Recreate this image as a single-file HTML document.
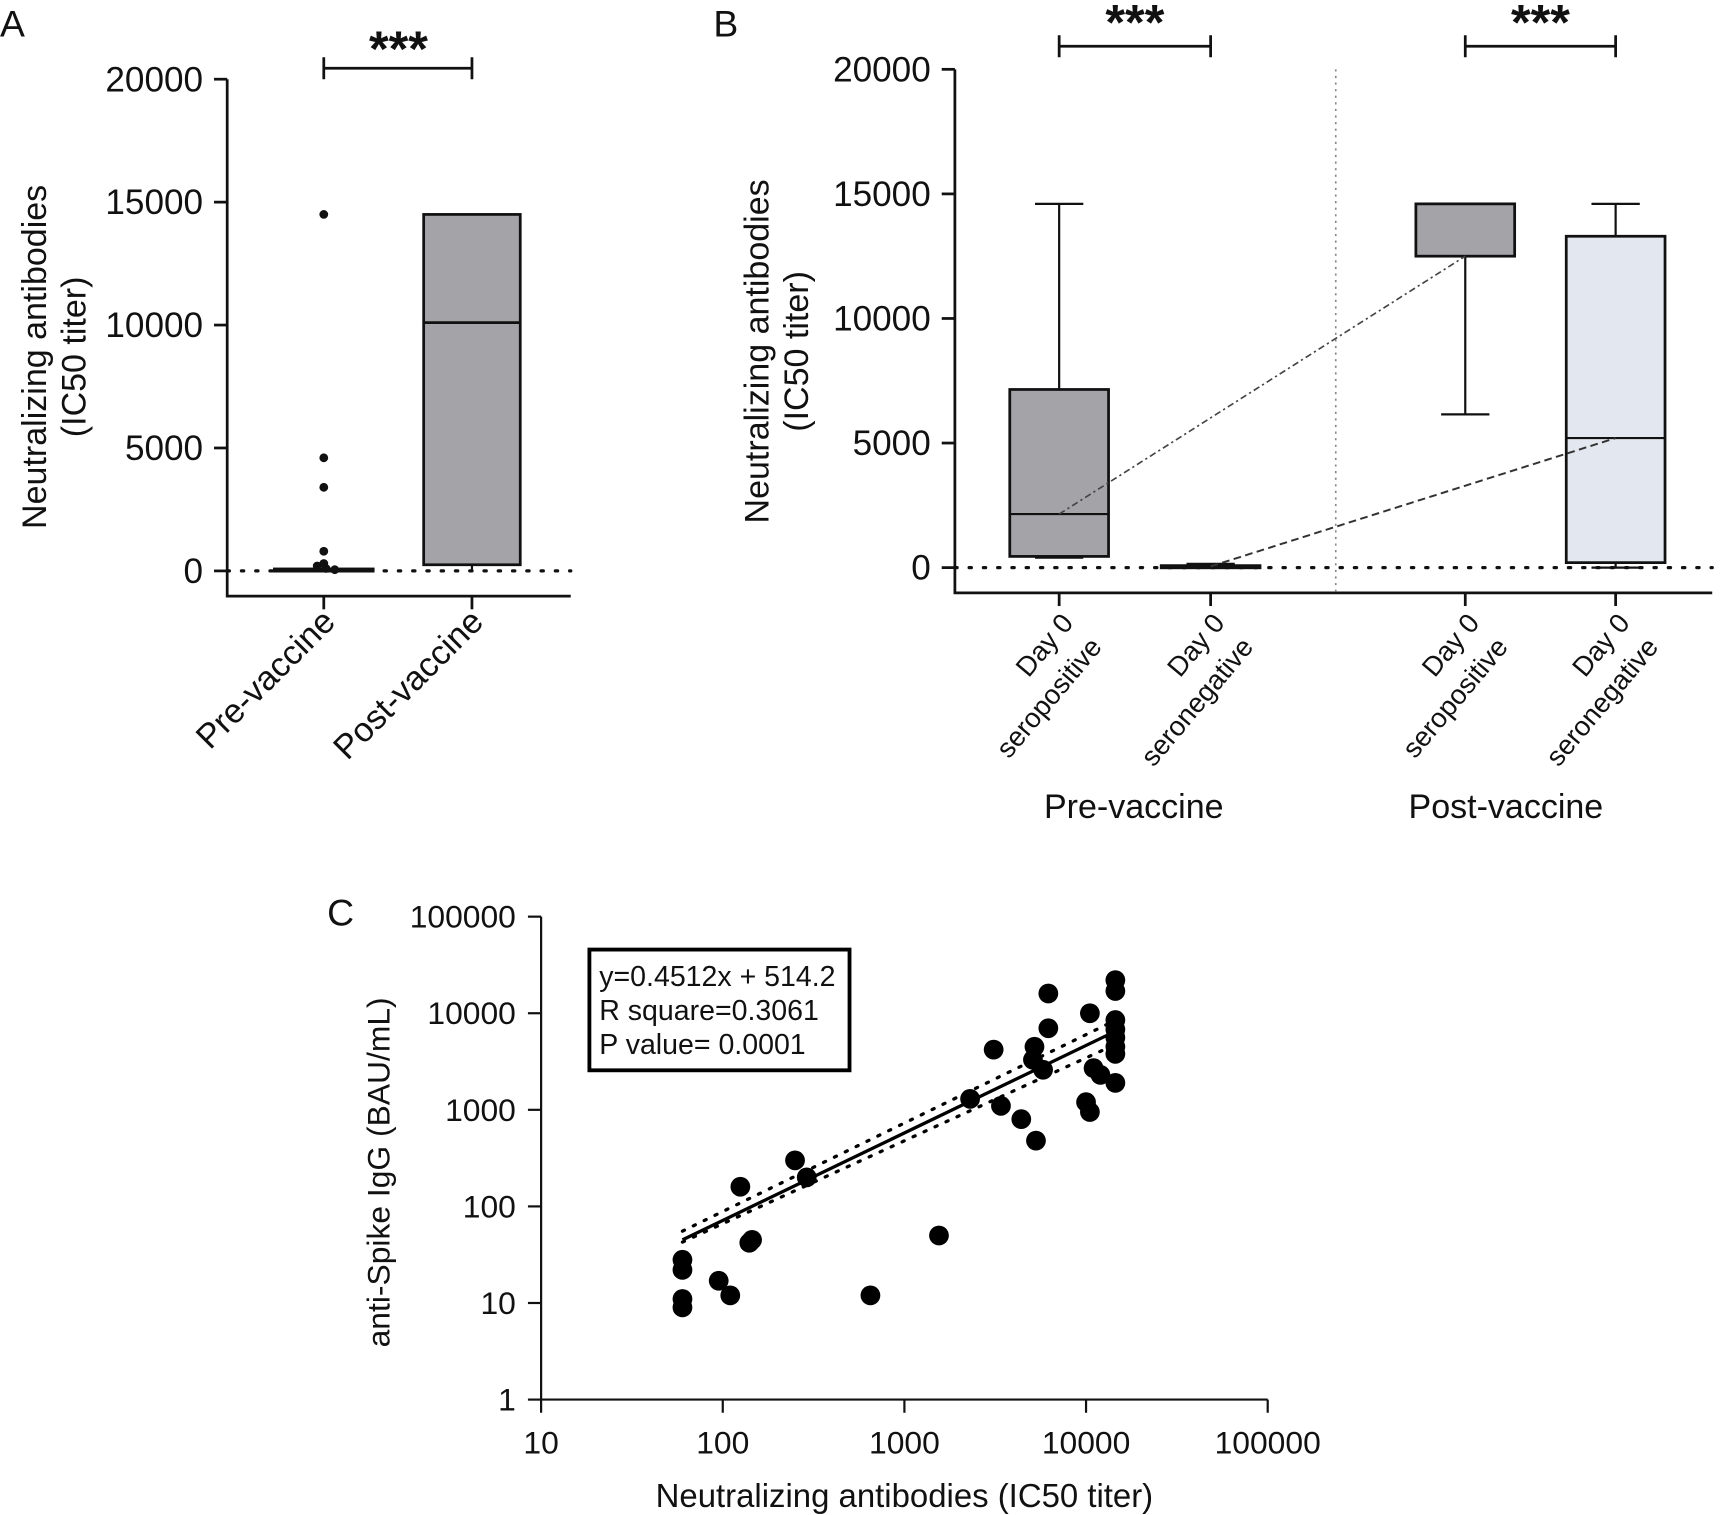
<!DOCTYPE html>
<html><head><meta charset="utf-8"><style>
body{margin:0;background:#fff}
svg{display:block}
text{font-family:"Liberation Sans",sans-serif;fill:#111}
</style></head><body>
<svg id="fig" width="1721" height="1515" viewBox="0 0 1568 1380" xmlns="http://www.w3.org/2000/svg">
<g id="A"></g>
<g id="B"></g>
<g id="C"></g>
</svg>
<script>
// Panel A data
const aCats=["Pre-vaccine","Post-vaccine"];
const aTicks=[0,5000,10000,15000,20000];
const aPreOutliers=[14500,4600,3400,800,300,200,100,50];
const aPostBox={min:0,q1:250,med:10100,q3:14500,max:14500};
const aPreBox={min:0,q1:20,med:50,q3:80,max:100};
// Panel B data
const bCats=[["Day 0","seropositive"],["Day 0","seronegative"],["Day 0","seropositive"],["Day 0","seronegative"]];
const bTicks=[0,5000,10000,15000,20000];
const bMin=[400,0,6150,0];
const bQ1=[450,20,12500,200];
const bMed=[2150,50,12500,5200];
const bQ3=[7150,80,14600,13300];
const bMax=[14600,150,14600,14600];
// Panel C data
const cXTicks=[10,100,1000,10000,100000];
const cYTicks=[1,10,100,1000,10000,100000];
const cX=[60,60,60,60,95,110,125,140,145,250,290,650,1550,2300,3100,3400,4400,5300,5200,6200,6200,5800,5100,10500,10000,10500,11000,12000,14500,14500,14500,14500,14500,14500,14500,14500];
const cY=[28,22,11,9,17,12,160,42,45,300,200,12,50,1300,4200,1100,800,480,4500,16000,7000,2600,3300,10000,1200,950,2700,2300,22000,17000,8500,6800,5600,4500,3800,1900];
const cFitX=[60,14500];
const cFitY=[45,6500];

const NS="http://www.w3.org/2000/svg";
function el(parent,tag,attrs,txt){const e=document.createElementNS(NS,tag);for(const k in attrs)e.setAttribute(k,attrs[k]);if(txt!==undefined)e.textContent=txt;parent.appendChild(e);return e;}

// ===== Panel A =====
(function(){
const g=document.getElementById('A');
const y=v=>520-v*(448/20000);
const xc=[295,430];
let t=el(g,'text',{x:0,y:33,'font-size':34});
t.textContent='A';
let ax=el(g,'path',{d:'M207 72 V543 H520',stroke:'#111','stroke-width':2.5,fill:'none'});

aTicks.forEach(v=>{
 let l=el(g,'line',{x1:195,x2:207,y1:y(v),y2:y(v),stroke:'#111','stroke-width':2.5});
 
 let tx=el(g,'text',{x:185,y:y(v)+11,'font-size':32,'text-anchor':'end'},String(v));
 
});
let yt=el(g,'text',{transform:'translate(42,325) rotate(-90)','font-size':31,'text-anchor':'middle'});

el(yt,'tspan',{x:0,dy:0},'Neutralizing antibodies');el(yt,'tspan',{x:0,dy:36},'(IC50 titer)');
let z=el(g,'line',{x1:207,x2:520,y1:520,y2:520,stroke:'#111','stroke-width':3,'stroke-dasharray':'2 11','stroke-linecap':'round'});

aCats.forEach((c,i)=>{
 let l=el(g,'line',{x1:xc[i],x2:xc[i],y1:543,y2:555,stroke:'#111','stroke-width':2.5});
 
 let tx=el(g,'text',{transform:`translate(${xc[i]+12},${568}) rotate(-45)`,'font-size':31,'text-anchor':'end'},c);
 
});
let pb=el(g,'rect',{x:xc[0]-45,y:y(aPreBox.q3),width:90,height:Math.max(2,y(aPreBox.q1)-y(aPreBox.q3)),fill:'#a3a3a8',stroke:'#111','stroke-width':2.5});

aPreOutliers.forEach((v,i)=>{
 let c=el(g,'circle',{cx:xc[0]+(i>4?(i-5)*8-6:0),cy:y(v),r:4,fill:'#111'});
 
});
const b=aPostBox;
let w=el(g,'line',{x1:xc[1],x2:xc[1],y1:y(b.min),y2:y(b.q1),stroke:'#111','stroke-width':2});

let bx=el(g,'rect',{x:xc[1]-44,y:y(b.q3),width:88,height:y(b.q1)-y(b.q3),fill:'#a3a3a8',stroke:'#111','stroke-width':2.5});

let md=el(g,'line',{x1:xc[1]-44,x2:xc[1]+44,y1:y(b.med),y2:y(b.med),stroke:'#111','stroke-width':2.5});

let sb=el(g,'path',{d:`M${xc[0]} 52 V72 M${xc[0]} 62 H${xc[1]} M${xc[1]} 52 V72`,stroke:'#111','stroke-width':2.5,fill:'none'});

let st=el(g,'text',{x:363,y:60,'font-size':46,'font-weight':'bold','text-anchor':'middle'},'***');

})();

// ===== Panel B =====
(function(){
const g=document.getElementById('B');
const y=v=>517-v*(454/20000);
const xc=[965,1103,1335,1472];
const fills=['#a3a3a8','#a3a3a8','#a3a3a8','#e3e7ef'];
let t=el(g,'text',{x:650,y:33,'font-size':34},'B');

let ax=el(g,'path',{d:'M870 63 V540 H1560',stroke:'#111','stroke-width':2.5,fill:'none'});

bTicks.forEach(v=>{
 let l=el(g,'line',{x1:858,x2:870,y1:y(v),y2:y(v),stroke:'#111','stroke-width':2.5});
 
 let tx=el(g,'text',{x:848,y:y(v)+11,'font-size':32,'text-anchor':'end'},String(v));
 
});
let yt=el(g,'text',{transform:'translate(700,320) rotate(-90)','font-size':31,'text-anchor':'middle'});

el(yt,'tspan',{x:0,dy:0},'Neutralizing antibodies');el(yt,'tspan',{x:0,dy:36},'(IC50 titer)');
let z=el(g,'line',{x1:870,x2:1560,y1:517,y2:517,stroke:'#111','stroke-width':3,'stroke-dasharray':'2 11','stroke-linecap':'round'});

let vd=el(g,'line',{x1:1217,x2:1217,y1:63,y2:540,stroke:'#888','stroke-width':1.5,'stroke-dasharray':'2 4'});

xc.forEach((x,i)=>{
 let w=el(g,'path',{d:`M${x} ${y(bMax[i])} V${y(bMin[i])} M${x-22} ${y(bMax[i])} H${x+22} M${x-22} ${y(bMin[i])} H${x+22}`,stroke:'#111','stroke-width':2,fill:'none'});
 
 let r=el(g,'rect',{x:x-45,y:y(bQ3[i]),width:90,height:Math.max(2,y(bQ1[i])-y(bQ3[i])),fill:fills[i],stroke:'#111','stroke-width':2.5});
 
 let m=el(g,'line',{x1:x-45,x2:x+45,y1:y(bMed[i]),y2:y(bMed[i]),stroke:'#111','stroke-width':2});
 
 let l=el(g,'line',{x1:x,x2:x,y1:540,y2:552,stroke:'#111','stroke-width':2.5});
 
 let tx=el(g,'text',{transform:`translate(${x+14},${568}) rotate(-50)`,'font-size':25,'text-anchor':'end'});
 
 el(tx,'tspan',{x:0,dy:0},bCats[i][0]);el(tx,'tspan',{x:0,dy:34},bCats[i][1]);
});
let c1=el(g,'line',{x1:xc[0],y1:y(bMed[0]),x2:xc[2],y2:y(bMed[2]),stroke:'#444','stroke-width':1.5,'stroke-dasharray':'6 3 2 3'});

let c2=el(g,'line',{x1:xc[1],y1:y(bMed[1]),x2:xc[3],y2:y(bMed[3]),stroke:'#333','stroke-width':1.8,'stroke-dasharray':'7 4'});

[[0,1],[2,3]].forEach(p=>{
 const a=xc[p[0]],b=xc[p[1]];
 let sb=el(g,'path',{d:`M${a} 32 V52 M${a} 42 H${b} M${b} 32 V52`,stroke:'#111','stroke-width':2.5,fill:'none'});
 
 let st=el(g,'text',{x:(a+b)/2,y:36,'font-size':46,'font-weight':'bold','text-anchor':'middle'},'***');
 
});
let g1=el(g,'text',{x:1033,y:745,'font-size':31,'text-anchor':'middle'},'Pre-vaccine');

let g2=el(g,'text',{x:1372,y:745,'font-size':31,'text-anchor':'middle'},'Post-vaccine');

})();

// ===== Panel C =====
(function(){
const g=document.getElementById('C');
const X=v=>493+Math.log10(v/10)*165.5;
const Y=v=>1275-Math.log10(v)*88;
let t=el(g,'text',{x:298,y:843,'font-size':34},'C');

let ax=el(g,'path',{d:`M493 835 V1275 H1155`,stroke:'#111','stroke-width':2,fill:'none'});

cYTicks.forEach(v=>{
 let l=el(g,'line',{x1:481,x2:493,y1:Y(v),y2:Y(v),stroke:'#111','stroke-width':2});
 
 let tx=el(g,'text',{x:470,y:Y(v)+10,'font-size':29,'text-anchor':'end'},String(v));
 
});
cXTicks.forEach(v=>{
 let l=el(g,'line',{x1:X(v),x2:X(v),y1:1275,y2:1287,stroke:'#111','stroke-width':2});
 
 let tx=el(g,'text',{x:X(v),y:1324,'font-size':29,'text-anchor':'middle'},String(v));
 
});
let xt=el(g,'text',{x:824,y:1373,'font-size':30,'text-anchor':'middle'},'Neutralizing antibodies (IC50 titer)');

let yt=el(g,'text',{transform:'translate(355,1068) rotate(-90)','font-size':29,'text-anchor':'middle'},'anti-Spike IgG (BAU/mL)');

cX.forEach((v,i)=>{
 let c=el(g,'circle',{cx:X(v),cy:Y(cY[i]),r:9,fill:'#000'});
 
});
const x1=X(cFitX[0]),y1=Y(cFitY[0]),x2=X(cFitX[1]),y2=Y(cFitY[1]);
let fl=el(g,'line',{x1,y1,x2,y2,stroke:'#000','stroke-width':3});

let ci1=el(g,'line',{x1,y1:y1-8,x2,y2:y2-10,stroke:'#000','stroke-width':3,'stroke-dasharray':'2 9','stroke-linecap':'round'});

let ci2=el(g,'line',{x1,y1:y1+2,x2,y2:y2+12,stroke:'#000','stroke-width':3,'stroke-dasharray':'2 9','stroke-linecap':'round'});

let bx=el(g,'rect',{x:537,y:865,width:237,height:110,fill:'#fff',stroke:'#000','stroke-width':3.5});

['y=0.4512x + 514.2','R square=0.3061','P value= 0.0001'].forEach((s,i)=>{
 let tx=el(g,'text',{x:546,y:898+i*31,'font-size':26},s);
 
});
})();
</script>
</body></html>
